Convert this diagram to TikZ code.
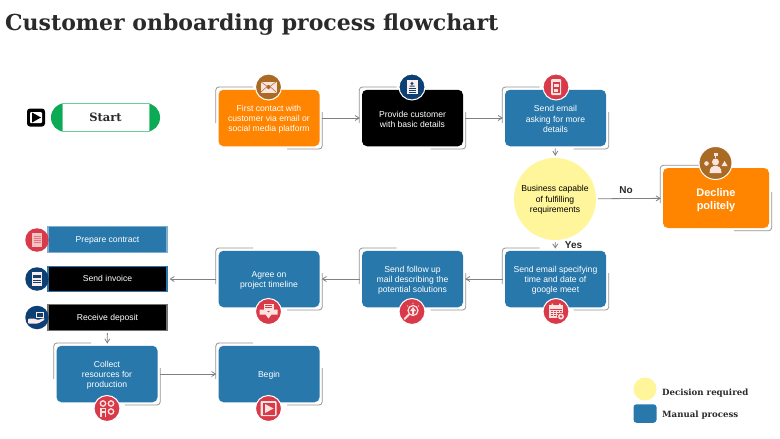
\documentclass[tikz,border=0pt]{standalone}
\usepackage{fontspec}
\setmainfont{Liberation Sans}
\newfontfamily\serifb{DejaVu Serif}
\usetikzlibrary{calc,arrows.meta}
\definecolor{pblue}{HTML}{2878AB}
\definecolor{porange}{HTML}{FF8400}
\definecolor{pyellow}{HTML}{FFF59A}
\definecolor{pbrown}{HTML}{A96A24}
\definecolor{pred}{HTML}{D93A4A}
\definecolor{pnavy}{HTML}{0C3F73}
\definecolor{pgreen}{HTML}{0BAA55}
\definecolor{ink}{HTML}{2A2A2A}
\definecolor{paleic}{HTML}{FBE3E0}
\newcommand{\dropa}{\rule{0pt}{8.4pt}}
\newcommand{\dropb}{\rule{0pt}{13pt}}
\tikzset{
  proc/.style={rectangle,rounded corners=5pt,minimum width=101pt,minimum height=56.5pt,inner sep=0pt,
    text=white,align=center,font=\fontsize{8.6}{10.2}\selectfont},
  bar/.style={rectangle,minimum width=119pt,inner sep=0pt,text=white,line width=1.1pt,
    text height=8.5pt,text depth=2pt,font=\fontsize{8.6}{10}\selectfont},
  frame/.style={draw=black!42,line width=0.8pt,rounded corners=3pt},
  conn/.style={draw=black!50,line width=0.8pt,-{Straight Barb[length=4pt,width=5pt]},shorten >=2pt,shorten <=2pt},
  ico/.style={circle,draw=white,line width=1pt,inner sep=0pt},
  lab/.style={font=\fontsize{10}{12}\selectfont\bfseries,text=ink,inner sep=0pt},
  leg/.style={font=\serifb\fontsize{8.6}{11}\selectfont\bfseries,text=ink,inner sep=0pt,anchor=base west}
}
\newcommand{\bracket}[1]{%
  \draw[frame] ($(#1.west)+(-2.5,5)$) |- ($(#1.north)+(-16,-2.5)$);
  \draw[frame] ($(#1.east)+(2.5,-6)$) |- ($(#1.south)+(18,2.5)$);}
\begin{document}
\begin{tikzpicture}[x=1pt,y=-1pt]
\useasboundingbox (0,0) rectangle (780,439);
\fill[white] (0,0) rectangle (780,439);
\node[anchor=base west,inner sep=0pt,text=ink] (title) at (5,30.5) {\serifb\fontsize{22}{26}\selectfont\bfseries Customer onboarding process flowchart};

% start
\node[rectangle,rounded corners=3pt,fill=black,minimum size=18pt,inner sep=0pt] (starticon) at (36,117.5) {};
\fill[white,rounded corners=1pt] (30,112) rectangle (42,123);
\fill[black] (32,112.5) -- (41,117.5) -- (32,122.5) -- cycle;
\node[rectangle,rounded corners=14pt,fill=pgreen,minimum width=109pt,minimum height=28.5pt,inner sep=0pt] (startbg) at (105.5,117.5) {};
\node[rectangle,fill=white,draw=pgreen!60,line width=0.6pt,minimum width=87pt,minimum height=27.5pt,inner sep=0pt,
  font=\serifb\fontsize{11.5}{14}\selectfont\bfseries,text=ink] (start) at (105.5,117.5) {Start};

% process boxes
\node[proc,fill=porange] (first) at (269,118) {\dropa First contact with\\customer via email or\\social media platform};
\node[proc,fill=black] (basic) at (412.5,118) {\dropa Provide customer\\with basic details};
\node[proc,fill=pblue] (ask) at (555.5,118) {\dropa Send email\\asking for more\\details};
\node[circle,fill=pyellow,minimum size=82pt,inner sep=0pt,align=center,text=black,font=\fontsize{8.6}{10.2}\selectfont] (dec) at (555,199) {\rule{0pt}{8pt}Business capable\\of fulfilling\\requirements};
\node[proc,fill=porange,minimum width=106pt,minimum height=60pt,font=\fontsize{11}{13}\selectfont\bfseries] (decline) at (716,198) {\dropb Decline\\politely};
\node[proc,fill=pblue] (spec) at (555.5,279) {\dropa Send email specifying\\time and date of\\google meet};
\node[proc,fill=pblue] (follow) at (412.5,279) {\dropa Send follow up\\mail describing the\\potential solutions};
\node[proc,fill=pblue] (agree) at (269,279) {\dropa Agree on\\project timeline};
\node[proc,fill=pblue] (collect) at (107,374) {\dropa Collect\\resources for\\production};
\node[proc,fill=pblue] (begin) at (269,374) {\dropa Begin};
\foreach \n in {first,basic,ask,decline,spec,follow,agree,collect,begin}{\bracket{\n}}

% bars
\node[bar,fill=pblue,draw=pblue!60,minimum height=26pt] (contract) at (107.5,239.5) {Prepare contract};
\node[bar,fill=black,draw=pblue,minimum height=25pt,text height=6.5pt] (invoice) at (107.5,279) {Send invoice};
\node[bar,fill=black,draw=black!55,minimum height=26pt] (deposit) at (107.5,317.5) {Receive deposit};

% connectors
\draw[conn] (first) -- (basic);
\draw[conn] (basic) -- (ask);
\draw[conn] (ask) -- (dec);
\draw[conn] (dec) -- (decline);
\draw[conn] (dec) -- (spec);
\draw[conn] (spec) -- (follow);
\draw[conn] (follow) -- (agree);
\draw[conn] (agree) -- (invoice);
\draw[conn] (deposit) -- (collect);
\draw[conn] (collect) -- (begin);
\node[lab] (no) at (626,190) {No};
\node[lab] (yes) at (573.5,245) {Yes};

% icons
\node[ico,fill=pbrown,minimum size=26pt] (i1) at (268.5,87) {};
\begin{scope}[shift={(i1.center)}]
 \fill[paleic] (-8,-5.5) rectangle (8,5.5);
 \draw[pbrown,line width=0.5pt] (-8,-5.5) -- (0,0.5) -- (8,-5.5) (-8,5.5) -- (-2,0) (8,5.5) -- (2,0);
 \fill[pbrown] (0,0) circle (2);
\end{scope}
\node[ico,fill=pnavy,minimum size=26pt] (i2) at (412,87) {};
\begin{scope}[shift={(i2.center)}]
 \fill[paleic!60!white] (-5.5,-7) rectangle (5.5,7);
 \fill[pnavy] (0,-3.5) circle (1.6) (-2.5,-0.5) rectangle (2.5,-1.5);
 \draw[pnavy,line width=0.6pt] (-3.5,1.5) -- (3.5,1.5) (-3.5,3.3) -- (3.5,3.3) (-3.5,5) -- (3.5,5);
\end{scope}
\node[ico,fill=pred,minimum size=26pt] (i3) at (556,87) {};
\begin{scope}[shift={(i3.center)}]
 \fill[paleic,rounded corners=1pt] (-5,-8) rectangle (5,8);
 \fill[pred] (-3.5,-5.5) rectangle (3.5,5.5);
 \fill[paleic] (-2.5,-3.5) rectangle (2.5,0);
 \fill[paleic] (-2,2) rectangle (2,4.5);
\end{scope}
\node[ico,fill=pbrown,draw=white,minimum size=33pt] (i4) at (715.5,163) {};
\begin{scope}[shift={(i4.center)}]
 \fill[paleic] (0,-1) circle (3.5);
 \fill[paleic] (-6,10) .. controls (-6,4) and (-3,3) .. (0,3) .. controls (3,3) and (6,4) .. (6,10) -- cycle;
 \fill[paleic] (-9,0.5) circle (2.3);
 \fill[paleic] (6,3) -- (9,-2) -- (12,3) -- cycle;
 \fill[paleic] (-2,-10) rectangle (2,-7);
 \fill[paleic] (-0.7,-7) rectangle (0.7,-5.5);
\end{scope}
\node[ico,fill=pred,minimum size=26pt] (i5) at (556,311.5) {};
\begin{scope}[shift={(i5.center)}]
 \fill[paleic] (-7,-6.5) rectangle (7,6);
 \fill[pred] (-6,-3) rectangle (6,-2.2);
 \foreach \yy in {-0.5,2,4.3}{\draw[pred,line width=0.9pt,dash pattern=on 2pt off 1pt] (-5.5,\yy) -- (5.5,\yy);}
 \fill[paleic] (-4.5,-8) rectangle (-3,-5) (3,-8) rectangle (4.5,-5);
 \fill[pred] (5,5) circle (4);
 \fill[paleic] (5,5) circle (3);
 \fill[pred] (5,5) circle (1.3);
\end{scope}
\node[ico,fill=pred,minimum size=26pt] (i6) at (412,311.5) {};
\begin{scope}[shift={(i6.center)}]
 \draw[paleic,line width=1.2pt] (1,-1) circle (5);
 \draw[paleic,line width=1.8pt,line cap=round] (-3,3) -- (-7.5,7.5);
 \fill[paleic] (1,-4.5) -- (4,-0.5) -- (2,-0.5) -- (2,3) -- (0,3) -- (0,-0.5) -- (-2,-0.5) -- cycle;
 \draw[paleic,line width=0.6pt] (1,-9) -- (1,-7.5) (-5,-6) -- (-4,-5) (7,-6) -- (6,-5);
\end{scope}
\node[ico,fill=pred,minimum size=26pt] (i7) at (268.5,311.5) {};
\begin{scope}[shift={(i7.center)}]
 \fill[paleic] (-5,-8) rectangle (5,-1);
 \fill[paleic] (-9,-2) -- (-3,-2) -- (0,1) -- (3,-2) -- (9,-2) -- (9,3) -- (3,3) -- (0,7) -- (-3,3) -- (-9,3) -- cycle;
 \draw[pred,line width=0.5pt] (-3.5,-6) -- (3.5,-6) (-3.5,-4) -- (3.5,-4);
\end{scope}
\node[ico,fill=pred,minimum size=26pt] (i8) at (107,408.5) {};
\begin{scope}[shift={(i8.center)}]
 \foreach \px/\py in {-4/-5,4/-5,4/3}{\draw[paleic,line width=1.3pt] (\px,\py) circle (2.7);}
 \fill[paleic] (-7,-1) rectangle (-1,8);
 \fill[pred] (-5.5,0.5) rectangle (-2.5,2.5);
 \fill[pred] (-5.5,4.5) rectangle (-2.5,8);
\end{scope}
\node[ico,fill=pred,minimum size=26pt] (i9) at (268.5,408.5) {};
\begin{scope}[shift={(i9.center)}]
 \fill[paleic,rounded corners=1pt] (-8,-7.5) rectangle (8,7.5);
 \fill[pred] (-6,-6) rectangle (6,6);
 \fill[paleic] (-3.5,-4.5) -- (5,0) -- (-3.5,4.5) -- cycle;
\end{scope}
\node[ico,fill=pred,minimum size=23.5pt,draw=none] (i10) at (37,240) {};
\begin{scope}[shift={(i10.center)}]
 \fill[paleic!80!pred] (-5,-7) rectangle (5,7);
 \draw[pred!70,line width=0.4pt] (-3.5,-4) -- (3.5,-4) (-3.5,-2) -- (3.5,-2) (-3.5,0) -- (3.5,0) (-3.5,2) -- (3.5,2);
\end{scope}
\node[ico,fill=pnavy,minimum size=23.5pt,draw=none] (i11) at (37,279) {};
\begin{scope}[shift={(i11.center)}]
 \fill[paleic!70!white] (-5.5,-7) rectangle (5,7);
 \fill[pnavy] (-4,-4.5) rectangle (3.5,-1);
 \draw[pnavy,line width=0.5pt] (-4,1) -- (3.5,1) (-4,3) -- (3.5,3);
\end{scope}
\node[ico,fill=pnavy,minimum size=23.5pt,draw=none] (i12) at (37,317.5) {};
\begin{scope}[shift={(i12.center)}]
 \fill[paleic!70!white] (-1,-6) rectangle (7,0);
 \fill[pnavy] (0,-5) rectangle (6,-1);
 \fill[paleic!70!white,rounded corners=1pt] (-9,1) -- (-3,1) -- (1,2.5) -- (7,0.5) -- (8,2) -- (1,6) -- (-9,6) -- cycle;
\end{scope}

% legend
\node[circle,fill=pyellow,minimum size=23pt,inner sep=0pt] (l1) at (645,389) {};
\node[rectangle,rounded corners=3pt,fill=pblue,minimum width=23pt,minimum height=18.5pt,inner sep=0pt] (l2) at (645,413.5) {};
\node[leg] (lt1) at (662,395) {Decision required};
\node[leg] (lt2) at (662,417) {Manual process};
\end{tikzpicture}
\end{document}
